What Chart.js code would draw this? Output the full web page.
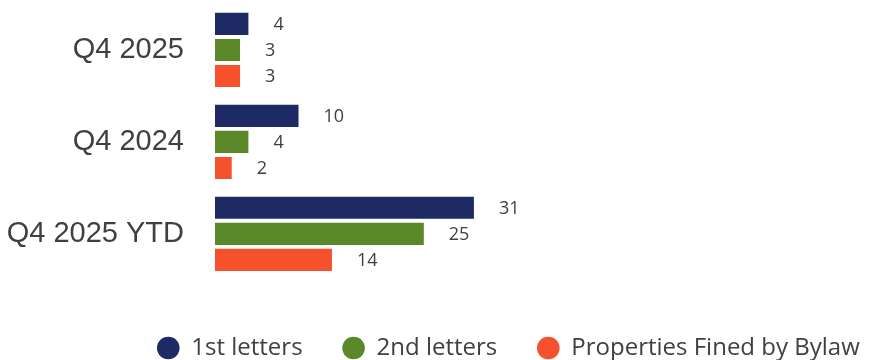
<!DOCTYPE html>
<html>
<head>
<meta charset="utf-8">
<script src="https://cdn.jsdelivr.net/npm/chart.js@4"></script>
<style>
  html, body { margin: 0; padding: 0; background: #fff; }
  #wrap { width: 879px; height: 360px; position: relative; overflow: hidden; }
</style>
</head>
<body>
<div id="wrap"><canvas id="lettersChart"></canvas></div>
<script>
// Chart data
const categories = ['Q4 2025', 'Q4 2024', 'Q4 2025 YTD'];
const firstLetters = [4, 10, 31];
const secondLetters = [3, 4, 25];
const propertiesFined = [3, 2, 14];

const seriesNames = ['1st letters', '2nd letters', 'Properties Fined by Bylaw'];
const seriesColors = ['#1D2A64', '#5B8828', '#F5512C'];

const textColor = '#404040';

// value labels to the right of each bar
const valueLabels = {
  id: 'valueLabels',
  afterDatasetsDraw(chart) {
    const ctx = chart.ctx;
    ctx.save();
    ctx.font = '18px "Open Sans"';
    ctx.fillStyle = textColor;
    ctx.textAlign = 'left';
    ctx.textBaseline = 'middle';
    chart.data.datasets.forEach((ds, i) => {
      const meta = chart.getDatasetMeta(i);
      meta.data.forEach((bar, j) => {
        ctx.fillText(ds.data[j], bar.x + 25, bar.y + 1);
      });
    });
    ctx.restore();
  }
};

const ctx = document.getElementById('lettersChart').getContext('2d');

new Chart(ctx, {
  type: 'bar',
  data: {
    labels: categories,
    datasets: [
      { label: seriesNames[0], data: firstLetters, backgroundColor: seriesColors[0] },
      { label: seriesNames[1], data: secondLetters, backgroundColor: seriesColors[1] },
      { label: seriesNames[2], data: propertiesFined, backgroundColor: seriesColors[2] }
    ]
  },
  options: {
    indexAxis: 'y',
    responsive: true,
    maintainAspectRatio: false,
    animation: false,
    categoryPercentage: 0.85,
    barPercentage: 0.85,
    layout: { padding: { left: 0, right: -138, top: 4, bottom: -10 } },
    plugins: {
      tooltip: { enabled: false },
      legend: {
        position: 'bottom',
        align: 'center',
        // empty title only used as a spacer above the legend row
        title: { display: true, text: '', font: { size: 1 }, padding: { top: 15, bottom: 0 } },
        labels: {
          usePointStyle: true,
          pointStyle: 'circle',
          boxWidth: 22,
          boxHeight: 16,
          padding: 40,
          color: textColor,
          font: { family: '"Open Sans"', size: 24 }
        }
      }
    },
    scales: {
      x: {
        display: false,
        min: 0,
        max: 79.5
      },
      y: {
        grid: { display: false, drawTicks: false },
        border: { display: false },
        afterFit(scale) {
          scale.width = 215;
          scale.paddingTop = 0;
          scale.paddingBottom = 0;
        },
        ticks: {
          padding: 31,
          color: textColor,
          font: { family: '"Liberation Sans"', size: 29 }
        }
      }
    }
  },
  plugins: [valueLabels]
});
</script>
</body>
</html>
